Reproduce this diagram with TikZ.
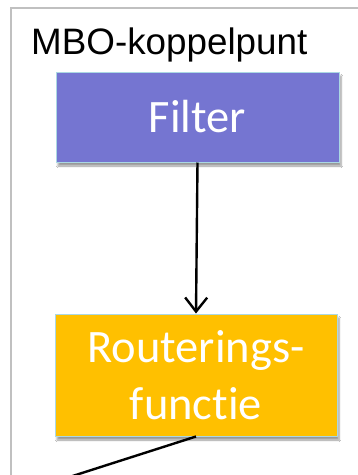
\documentclass[tikz,border=0pt]{standalone}
\usepackage{fontspec}
\setmainfont[Ligatures=NoCommon]{Carlito}
\newfontfamily\arialf{Liberation Sans}
\usetikzlibrary{arrows.meta,shadows.blur}
\definecolor{boxpurple}{HTML}{7575D1}
\definecolor{boxorange}{HTML}{FFC000}
\definecolor{boxedge}{HTML}{ABD8E3}
\definecolor{frame}{HTML}{C0C0C0}
\tikzset{
  block/.style={draw=boxedge, line width=1pt, text=white, align=center,
    font=\fontsize{46.5}{57}\selectfont, inner sep=0pt,
    blur shadow={shadow xshift=2pt, shadow yshift=-4pt, shadow blur steps=6, shadow opacity=40}},
  conn/.style={line width=2.4pt, black},
}
\begin{document}
\begin{tikzpicture}[x=1pt,y=-1pt]
\useasboundingbox (0,0) rectangle (358,475);
\fill[white] (0,0) rectangle (358,475);
\draw[frame, line width=1.5pt] (11,490) -- (11,8) -- (370,8);
\node[anchor=base west, inner sep=0pt, font=\arialf\fontsize{36.8}{40}\selectfont] (title) at (31,54) {MBO-koppelpunt};
\node[block, fill=boxpurple, minimum width=283pt, minimum height=90pt] (filter) at (197.5,117) {Filter};
\node[block, fill=boxorange, minimum width=282pt, minimum height=122pt] (rout) at (196,375) {Routerings-\\functie};
\coordinate (out) at (57,481);
\draw[conn, -{Straight Barb[length=14pt,width=22pt,line width=2.4pt]}] (filter.south) -- (rout.north);
\draw[conn] (rout.south) -- (out);
\end{tikzpicture}
\end{document}
